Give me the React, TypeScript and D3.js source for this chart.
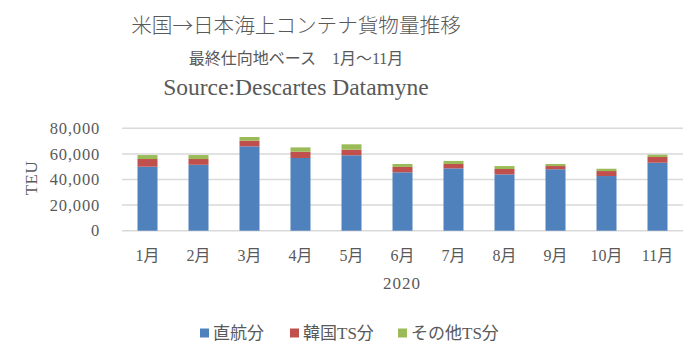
import React from "react";
import * as d3 from "d3";

const months = ["1月", "2月", "3月", "4月", "5月", "6月", "7月", "8月", "9月", "10月", "11月"];
const direct = [50000, 51500, 65900, 56800, 58900, 45600, 48700, 44000, 48000, 42700, 53100];
const korea = [6000, 4500, 4400, 4900, 4400, 4200, 3400, 4200, 2500, 3900, 4500];
const other = [3100, 3100, 2900, 3400, 4200, 2300, 2400, 2300, 1600, 1800, 1800];
const seriesNames = ["直航分", "韓国TS分", "その他TS分"];
const colors = ["#4F81BD", "#C0504D", "#9BBB59"];
const yTicks = [0, 20000, 40000, 60000, 80000];

const FONT = "'Liberation Serif', 'Noto Sans CJK JP', serif";
const JFONT = "'Noto Sans CJK JP', 'Liberation Serif', sans-serif";
const TXT = "#595959";

export default function App() {
  const W = 700, H = 359;
  const x = d3.scaleBand<string>().domain(months).range([122, 683]).paddingInner(0).paddingOuter(0);
  const y = d3.scaleLinear().domain([0, 80000]).range([230.7, 128.3]);
  const rows = months.map((m, i) => ({ m, a: direct[i], b: korea[i], c: other[i] }));
  const stack = d3.stack<any>().keys(["a", "b", "c"])(rows);
  const barW = 20;
  const fmt = d3.format(",");
  const legendX = [200, 290, 398];

  return (
    <svg width={W} height={H} style={{ position: "absolute", left: 0, top: 0, background: "#fff" }} fontFamily={FONT}>
      <rect width={W} height={H} fill="#fff" />
      <text x={296} y={33} textAnchor="middle" fontSize={20.6} fill={TXT} fontFamily={JFONT} fontWeight={300}>米国→日本海上コンテナ貨物量推移</text>
      <text x={296} y={64} textAnchor="middle" fontSize={16} fill={TXT}>最終仕向地ベース　1月～11月</text>
      <text x={296} y={95} textAnchor="middle" fontSize={23.5} fill={TXT}>Source:Descartes Datamyne</text>

      {yTicks.map((t) => (
        <g key={t}>
          <line x1={122} x2={683} y1={y(t)} y2={y(t)} stroke="#D9D9D9" strokeWidth={1.5} />
          <text x={100} y={y(t)} dy="0.35em" textAnchor="end" fontSize={16.5} letterSpacing={0.8} fill={TXT}>{fmt(t)}</text>
        </g>
      ))}
      <text transform={`translate(31,178) rotate(-90)`} textAnchor="middle" dy="0.35em" fontSize={17} letterSpacing={0.5} fill={TXT}>TEU</text>

      {stack.map((s, si) => (
        <g key={si}>
          {s.map((d, i) => (
            <rect
              key={i}
              x={(x(months[i]) as number) + x.bandwidth() / 2 - barW / 2}
              y={y(d[1])}
              width={barW}
              height={y(d[0]) - y(d[1])}
              fill={colors[si]}
            />
          ))}
        </g>
      ))}

      {months.map((m) => (
        <text key={m} x={(x(m) as number) + x.bandwidth() / 2} y={255} dy="0.35em" textAnchor="middle" fontSize={16} fill={TXT}>{m}</text>
      ))}
      <text x={402} y={283} dy="0.35em" textAnchor="middle" fontSize={17} letterSpacing={1} fill={TXT}>2020</text>

      {seriesNames.map((n, i) => (
        <g key={n}>
          <rect x={legendX[i]} y={328.5} width={9} height={9} fill={colors[i]} />
          <text x={legendX[i] + 13} y={333} dy="0.35em" fontSize={17} fill={TXT}>{n}</text>
        </g>
      ))}
    </svg>
  );
}
